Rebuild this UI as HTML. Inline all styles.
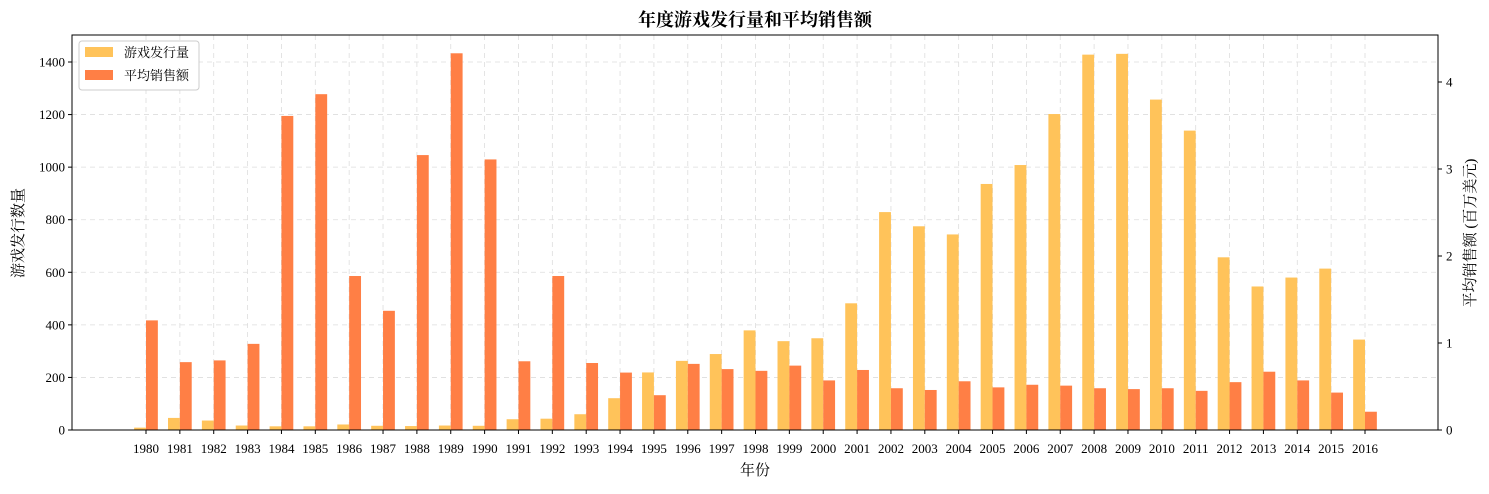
<!DOCTYPE html>
<html><head><meta charset="utf-8">
<style>
body{margin:0;background:#fff;}
svg text{font-family:"Liberation Serif","Noto Serif CJK SC",serif;fill:#000;}
</style></head>
<body>
<svg id="chart" width="1489" height="489" xmlns="http://www.w3.org/2000/svg"></svg>
<script>
const years=[1980,1981,1982,1983,1984,1985,1986,1987,1988,1989,1990,1991,1992,1993,1994,1995,1996,1997,1998,1999,2000,2001,2002,2003,2004,2005,2006,2007,2008,2009,2010,2011,2012,2013,2014,2015,2016];
const gameCounts=[9,46,36,17,14,14,21,16,15,17,16,41,43,60,121,219,263,289,379,338,349,482,829,775,744,936,1008,1202,1428,1431,1257,1139,657,546,580,614,344];
const avgSales=[1.26,0.78,0.80,0.99,3.61,3.86,1.77,1.37,3.16,4.33,3.11,0.79,1.77,0.77,0.66,0.40,0.76,0.70,0.68,0.74,0.57,0.69,0.48,0.46,0.56,0.49,0.52,0.51,0.48,0.47,0.48,0.45,0.55,0.67,0.57,0.43,0.21];
const leftTicks=[0,200,400,600,800,1000,1200,1400];
const rightTicks=[0,1,2,3,4];

const svg=document.getElementById('chart');
const NS='http://www.w3.org/2000/svg';
const L=72,R=1438,T=35,B=430;
const x0=146,step=(1365-146)/36,bw=step*0.35;
const xPos=i=>x0+i*step;
const yL=v=>B-v*(368/1400);
const yR=v=>B-v*87;
function mk(tag,attrs,parent){const e=document.createElementNS(NS,tag);for(const k in attrs)e.setAttribute(k,attrs[k]);(parent||svg).appendChild(e);return e;}
function txt(s,attrs){const e=mk('text',attrs);e.textContent=s;return e;}

// grid
leftTicks.forEach(v=>{const g=mk('line',{x1:L,x2:R,y1:yL(v),y2:yL(v),stroke:'#ddd','stroke-dasharray':'5,4','stroke-width':0.8});

});
years.forEach((y,i)=>{const g=mk('line',{x1:xPos(i),x2:xPos(i),y1:T,y2:B,stroke:'#ddd','stroke-dasharray':'5,4','stroke-width':0.8});

});

// bars
years.forEach((y,i)=>{
 const a=mk('rect',{x:xPos(i)-bw,y:yL(gameCounts[i]),width:bw,height:B-yL(gameCounts[i]),fill:'#ffc35a'});
 
 
 const b=mk('rect',{x:xPos(i),y:yR(avgSales[i]),width:bw,height:B-yR(avgSales[i]),fill:'#ff7f45'});
 
 
 const t=txt(y,{x:xPos(i),y:453,'font-size':13,'text-anchor':'middle'});
 
 
 mk('line',{x1:xPos(i),x2:xPos(i),y1:B,y2:B+4,stroke:'#000'});
});

// frame
const fr=mk('rect',{x:L,y:T,width:R-L,height:B-T,fill:'none',stroke:'#000','stroke-width':1});



leftTicks.forEach(v=>{mk('line',{x1:L-4,x2:L,y1:yL(v),y2:yL(v),stroke:'#000'});
 const t=txt(v,{x:L-7,y:yL(v)+4.5,'font-size':13,'text-anchor':'end'});
 
 });
rightTicks.forEach(v=>{mk('line',{x1:R,x2:R+4,y1:yR(v),y2:yR(v),stroke:'#000'});
 const t=txt(v,{x:R+8,y:yR(v)+4.5,'font-size':13,'text-anchor':'start'});
 
 });

let t=txt('年度游戏发行量和平均销售额',{x:755,y:26,'font-size':18,'font-weight':'bold','text-anchor':'middle'});

t=txt('年份',{x:755,y:475,'font-size':15,'text-anchor':'middle'});

t=txt('游戏发行数量',{x:0,y:0,'font-size':15,'text-anchor':'middle',transform:'translate(23,233) rotate(-90)'});

t=txt('平均销售额 (百万美元)',{x:0,y:0,'font-size':15,'text-anchor':'middle',transform:'translate(1475,233) rotate(-90)'});


// legend
const lg=mk('g',{});


mk('rect',{x:79,y:41,width:120,height:49,rx:3,fill:'#fff',stroke:'#ccc'},lg);
mk('rect',{x:85,y:47,width:28,height:10,fill:'#ffc35a'},lg);
mk('rect',{x:85,y:70,width:28,height:10,fill:'#ff7f45'},lg);
let l1=mk('text',{x:124,y:57,'font-size':13},lg);l1.textContent='游戏发行量';

let l2=mk('text',{x:124,y:80,'font-size':13},lg);l2.textContent='平均销售额';

</script>
</body></html>
